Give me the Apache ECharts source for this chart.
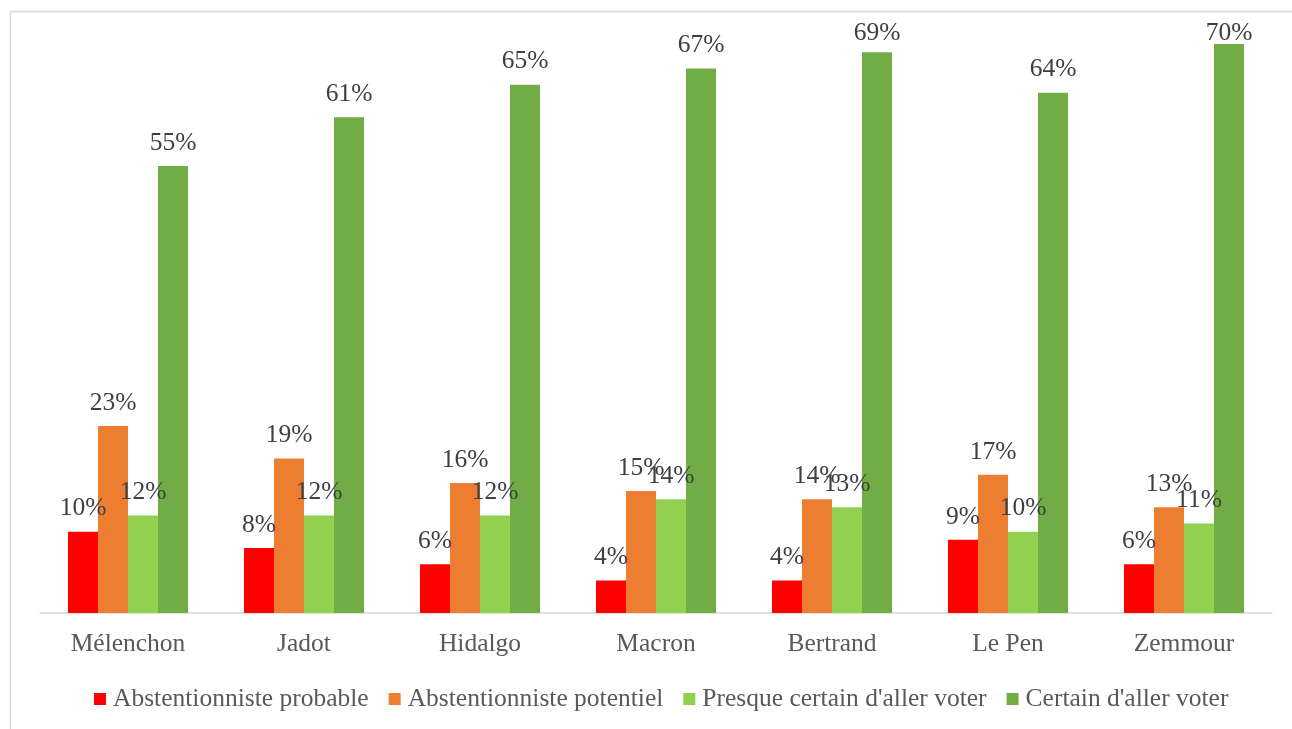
<!DOCTYPE html>
<html>
<head>
<meta charset="utf-8">
<script src="https://cdn.jsdelivr.net/npm/echarts@6/dist/echarts.min.js"></script>
<style>
  html, body { margin: 0; padding: 0; background: #ffffff; }
  #chart { width: 1292px; height: 729px; }
</style>
</head>
<body>
<div id="chart"></div>
<script>
// Candidates and voting-intention certainty shares (%)
const candidates = ['Mélenchon', 'Jadot', 'Hidalgo', 'Macron', 'Bertrand', 'Le Pen', 'Zemmour'];
const seriesNames = ['Abstentionniste probable', 'Abstentionniste potentiel', "Presque certain d'aller voter", "Certain d'aller voter"];
const abstProbable = [10, 8, 6, 4, 4, 9, 6];
const abstPotentiel = [23, 19, 16, 15, 14, 17, 13];
const presqueCertain = [12, 12, 12, 14, 13, 10, 11];
const certain = [55, 61, 65, 67, 69, 64, 70];
const colors = ['#FF0000', '#ED7D31', '#92D050', '#70AD47'];

const FONT = '"Liberation Serif", "Times New Roman", serif';
const FS = 25.5;
const LABEL_GAP = 10;         // normal gap between bar top and its label
const LABEL_TOP_LIMIT = 46.5; // labels are kept below this line near the chart's top edge

const allValues = [abstProbable, abstPotentiel, presqueCertain, certain];

const chart = echarts.init(document.getElementById('chart'), null, { renderer: 'canvas' });

function barSeries(name, data, color) {
  return {
    name: name,
    type: 'bar',
    data: data,
    barWidth: 30,
    barGap: '0%',
    itemStyle: { color: color },
    label: {
      show: true,
      position: 'top',
      distance: LABEL_GAP,
      formatter: p => p.value + '%',
      fontFamily: FONT,
      fontSize: FS,
      color: '#404040'
    },
    emphasis: { disabled: true }
  };
}

chart.setOption({
  animation: false,
  backgroundColor: '#ffffff',
  graphic: [{
    type: 'rect',
    shape: { x: 10.5, y: 11.5, width: 1300, height: 740 },
    style: { fill: 'none', stroke: '#d9d9d9', lineWidth: 1.5 },
    silent: true,
    z: -1
  }],
  grid: { left: 40, right: 20, top: 44, bottom: 116, containLabel: false },
  legend: {
    data: seriesNames,
    top: 681,
    left: 89,
    icon: 'rect',
    itemWidth: 12,
    itemHeight: 12,
    itemGap: 20,
    textStyle: { fontFamily: FONT, fontSize: FS, color: '#595959', padding: [0, 0, 0, 2] }
  },
  xAxis: {
    type: 'category',
    data: candidates,
    axisLine: { lineStyle: { color: '#d9d9d9', width: 1.5 } },
    axisTick: { show: false },
    axisLabel: { fontFamily: FONT, fontSize: FS, color: '#595959', margin: 18 }
  },
  yAxis: {
    type: 'value',
    min: 0,
    max: 70,
    show: false,
    splitLine: { show: false }
  },
  series: allValues.map((vals, i) => barSeries(seriesNames[i], vals, colors[i]))
});

// Pull labels of the tallest bars down so they stay inside the chart area
chart.setOption({
  series: allValues.map((vals, si) => ({
    data: vals.map((v, ci) => {
      const top = chart.convertToPixel({ seriesIndex: si }, [ci, v])[1];
      const d = Math.min(LABEL_GAP, top - LABEL_TOP_LIMIT);
      return d < LABEL_GAP ? { value: v, label: { distance: d } } : v;
    })
  }))
});
</script>
</body>
</html>
